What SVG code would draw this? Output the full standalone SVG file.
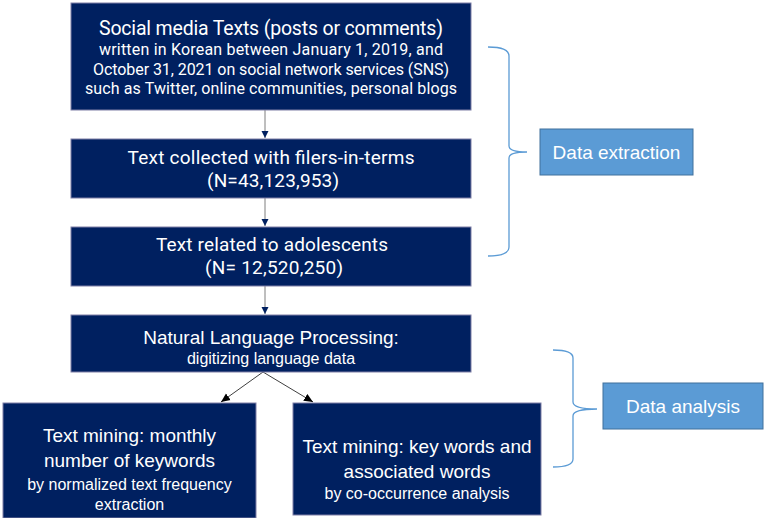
<svg xmlns="http://www.w3.org/2000/svg" width="767" height="518" viewBox="0 0 767 518">
<style>
.nb{fill:#002060;stroke:#7f7fa6;stroke-width:1}
.lb{fill:#5B9BD5;stroke:#41719C;stroke-width:1}
.tk{font-family:Roboto,"Noto Sans",sans-serif;fill:#fff;text-anchor:middle}
.ta{font-family:"Liberation Sans",Arial,sans-serif;fill:#fff;text-anchor:middle}
.br{fill:none;stroke:#5B9BD5;stroke-width:1.3}
.cn{stroke:#7f7f7f;stroke-width:1;fill:none}
.cd{stroke:#404040;stroke-width:1;fill:none}
</style>
<defs>
<marker id="ah" markerWidth="8" markerHeight="8" refX="7" refY="4" orient="auto" markerUnits="userSpaceOnUse">
<path d="M0,0.5 L7,4 L0,7.5 Z" fill="#002060"/>
</marker>
<marker id="ah2" markerWidth="10" markerHeight="10" refX="9" refY="4.5" orient="auto" markerUnits="userSpaceOnUse">
<path d="M0,0.5 L9,4.5 L0,8.5 Z" fill="#000"/>
</marker>
</defs>
<g id="connectors">
<line class="cn" x1="265" y1="110" x2="265" y2="138" marker-end="url(#ah)"/>
<line class="cn" x1="265" y1="198" x2="265" y2="226" marker-end="url(#ah)"/>
<line class="cn" x1="265" y1="286" x2="265" y2="314" marker-end="url(#ah)"/>
<line class="cd" x1="263" y1="372" x2="221" y2="402" marker-end="url(#ah2)"/>
<line class="cd" x1="263" y1="372" x2="313" y2="402" marker-end="url(#ah2)"/>
<path class="br" d="M488,47 Q509,47 509,56 L509,146 Q509,152 527,152 Q509,152 509,158 L509,247 Q509,256 488,256"/>
<path class="br" d="M553,350 Q573,350 573,358 L573,402 Q573,409 597,409 Q573,409 573,416 L573,459 Q573,467 553,467"/>
</g>
<g id="n1">
<rect class="nb" x="71" y="3" width="400" height="107"/>
<text class="tk" x="271" y="35" font-size="19.5" textLength="344">Social media Texts (posts or comments)</text>
<text class="tk" x="271" y="55" font-size="16" textLength="344">written in Korean between January 1, 2019, and</text>
<text class="tk" x="271" y="74.5" font-size="16" textLength="356">October 31, 2021 on social network services (SNS)</text>
<text class="tk" x="271" y="94" font-size="16" textLength="372">such as Twitter, online communities, personal blogs</text>
</g>
<g id="n2">
<rect class="nb" x="71" y="139" width="400" height="59"/>
<text class="tk" x="271" y="164" font-size="19" textLength="287">Text collected with filers-in-terms</text>
<text class="tk" x="273" y="187" font-size="19" textLength="132">(N=43,123,953)</text>
</g>
<g id="n3">
<rect class="nb" x="71" y="227" width="400" height="59"/>
<text class="tk" x="272" y="251" font-size="19" textLength="232">Text related to adolescents</text>
<text class="tk" x="274" y="274" font-size="19" textLength="138">(N= 12,520,250)</text>
</g>
<g id="n4">
<rect class="nb" x="71" y="315" width="400" height="57"/>
<text class="ta" x="271" y="344" font-size="19">Natural Language Processing:</text>
<text class="ta" x="271" y="364" font-size="16">digitizing language data</text>
</g>
<g id="n5">
<rect class="nb" x="3" y="403" width="253" height="115"/>
<text class="ta" x="129.5" y="442" font-size="19">Text mining: monthly</text>
<text class="ta" x="129.5" y="467" font-size="19">number of keywords</text>
<text class="ta" x="129.5" y="490" font-size="16">by normalized text frequency</text>
<text class="ta" x="129.5" y="510" font-size="16">extraction</text>
</g>
<g id="n6">
<rect class="nb" x="293" y="403" width="248" height="112"/>
<text class="ta" x="417" y="453" font-size="19">Text mining: key words and</text>
<text class="ta" x="417" y="478" font-size="19">associated words</text>
<text class="ta" x="417" y="499" font-size="16">by co-occurrence analysis</text>
</g>
<g id="n7">
<rect class="lb" x="540" y="129" width="153" height="46"/>
<text class="ta" x="616.5" y="159" font-size="19">Data extraction</text>
</g>
<g id="n8">
<rect class="lb" x="603" y="383" width="160" height="46"/>
<text class="ta" x="683" y="413" font-size="19">Data analysis</text>
</g>
</svg>
